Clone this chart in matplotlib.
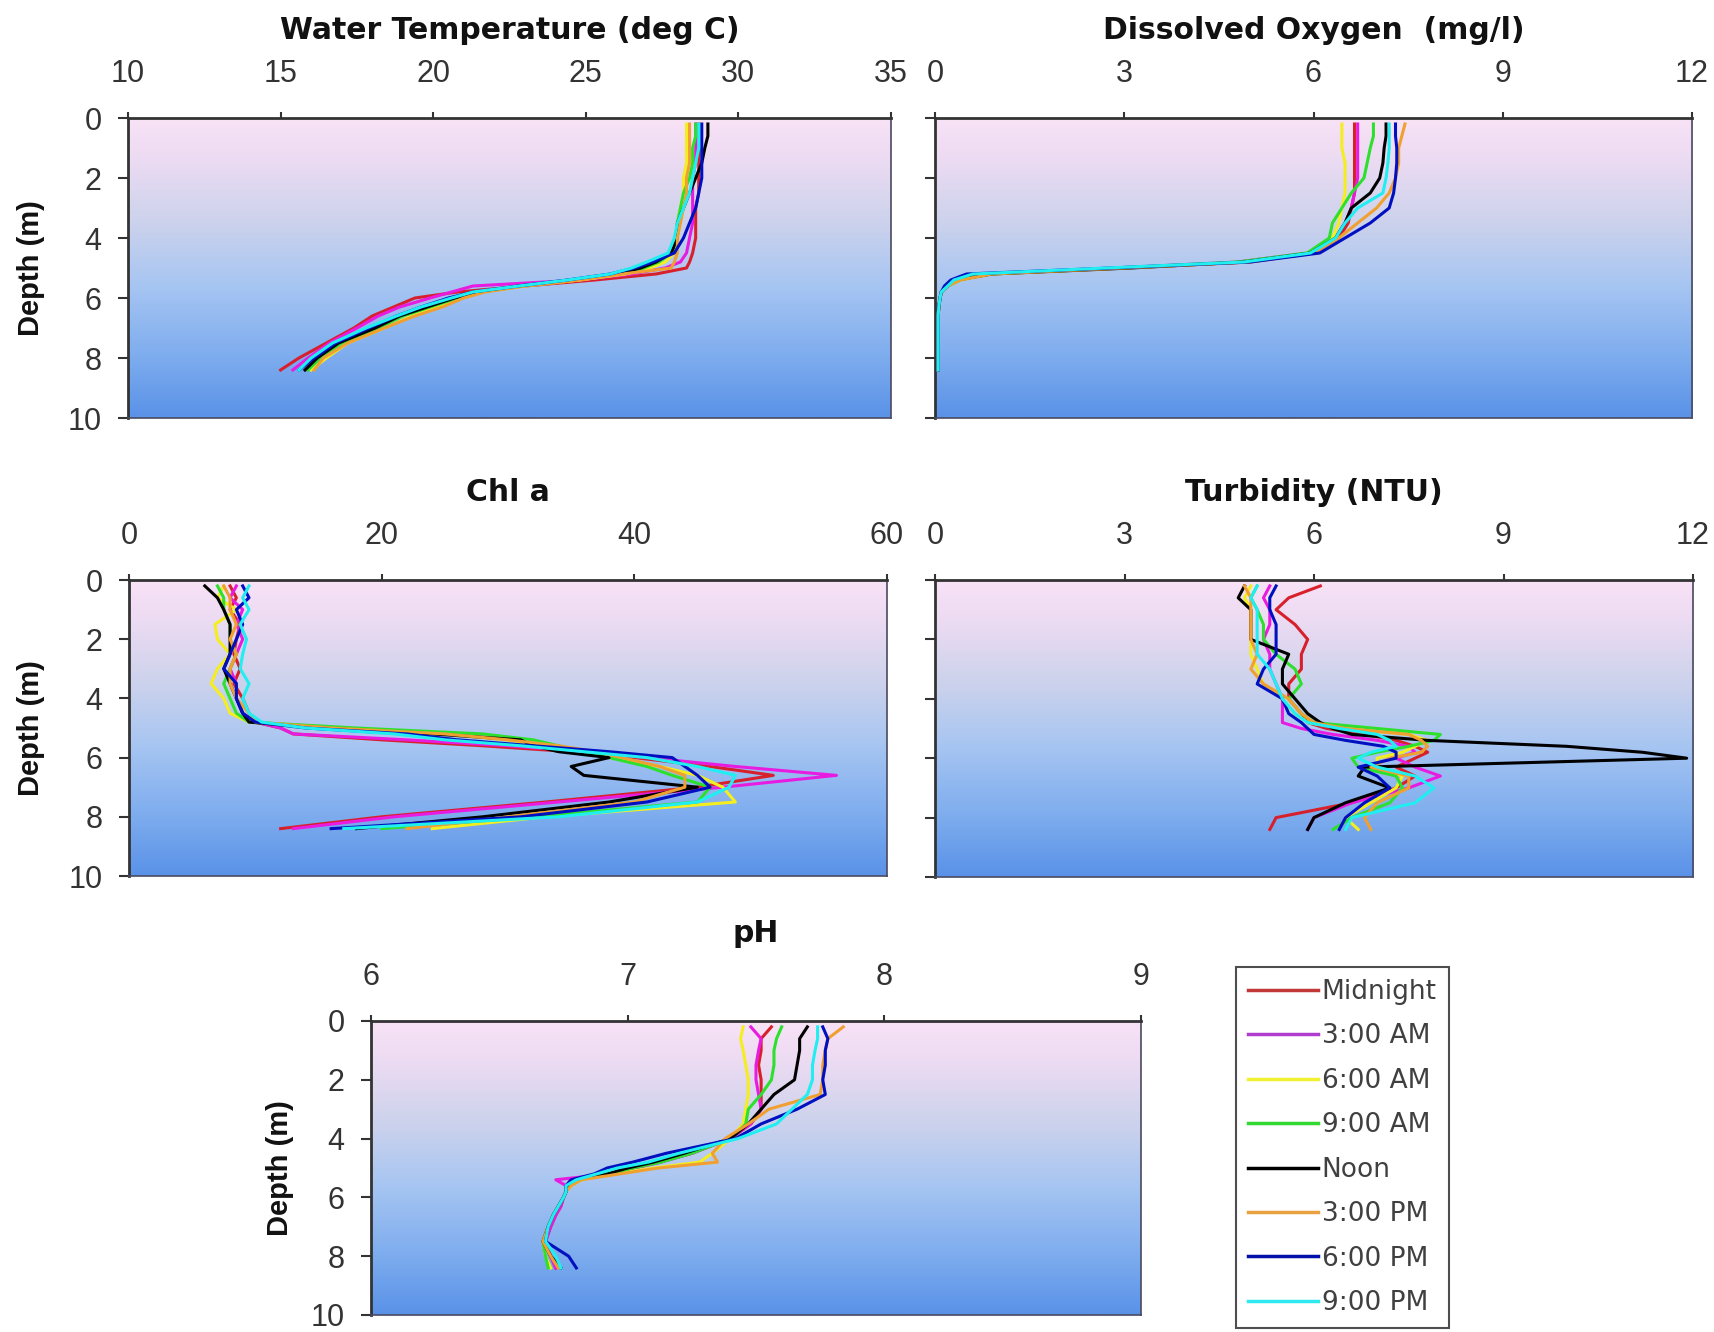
import numpy as np
import matplotlib
matplotlib.use("Agg")
import matplotlib.pyplot as plt
from matplotlib.colors import LinearSegmentedColormap
from matplotlib.lines import Line2D

# ---------------- data ----------------
series_labels = ["Midnight", "3:00 AM", "6:00 AM", "9:00 AM", "Noon", "3:00 PM", "6:00 PM", "9:00 PM"]
series_colors = ["#D8202C", "#E81CE0", "#F4EE20", "#2EE02E", "#000000", "#F0A030", "#0010C0", "#20EEF0"]
legend_colors = ["#C03838", "#B03CD0", "#F0F030", "#30D830", "#000000", "#E8A040", "#0010A8", "#30E8F0"]

depth_m = [0.2, 0.6, 1.0, 1.5, 2.0, 2.5, 3.0, 3.5, 4.0, 4.5, 4.8, 5.0, 5.2, 5.4, 5.6, 5.8,
           6.0, 6.3, 6.6, 7.0, 7.5, 8.0, 8.4]

temp_values = [
    [28.7, 28.7, 28.7, 28.7, 28.7, 28.7, 28.6, 28.6, 28.6, 28.5, 28.4, 28.3, 27.3, 25.3, 23.0, 20.8, 19.4, 18.7, 18.0, 17.4, 16.5, 15.6, 15.0],
    [28.6, 28.6, 28.6, 28.6, 28.5, 28.5, 28.5, 28.5, 28.4, 28.3, 28.1, 27.6, 26.5, 24.8, 21.3, 20.6, 19.9, 18.9, 18.2, 17.5, 16.6, 15.9, 15.4],
    [28.3, 28.3, 28.3, 28.3, 28.2, 28.2, 28.1, 28.0, 28.0, 27.9, 27.6, 27.1, 26.3, 24.8, 23.0, 21.6, 20.9, 20.1, 19.3, 18.4, 17.2, 16.5, 16.0],
    [28.6, 28.6, 28.5, 28.5, 28.4, 28.2, 28.1, 28.0, 28.0, 27.8, 27.4, 26.9, 26.1, 24.6, 22.9, 21.6, 20.8, 19.9, 19.0, 18.2, 17.0, 16.3, 15.9],
    [29.0, 29.0, 28.9, 28.8, 28.6, 28.4, 28.2, 28.0, 28.0, 27.8, 27.3, 26.8, 26.0, 24.5, 22.8, 21.5, 20.7, 19.8, 18.9, 18.1, 16.9, 16.2, 15.8],
    [28.4, 28.4, 28.4, 28.4, 28.3, 28.3, 28.2, 28.1, 28.0, 28.0, 27.9, 27.8, 26.2, 24.8, 23.0, 21.7, 21.0, 20.3, 19.4, 18.4, 17.2, 16.4, 16.1],
    [28.8, 28.8, 28.8, 28.8, 28.8, 28.7, 28.6, 28.4, 28.2, 27.9, 27.2, 26.6, 25.8, 24.4, 22.8, 21.3, 20.5, 19.6, 18.8, 17.9, 16.8, 16.1, 15.6],
    [28.7, 28.7, 28.7, 28.6, 28.5, 28.4, 28.2, 28.0, 27.9, 27.7, 27.0, 26.5, 25.8, 24.4, 22.8, 21.3, 20.6, 19.6, 18.8, 17.8, 16.7, 16.0, 15.6],
]

do_values = [
    [6.65, 6.65, 6.65, 6.65, 6.65, 6.65, 6.60, 6.55, 6.40, 6.00, 5.00, 3.00, 0.80, 0.30, 0.20, 0.10, 0.08, 0.06, 0.05, 0.05, 0.05, 0.05, 0.05],
    [6.70, 6.70, 6.70, 6.70, 6.70, 6.65, 6.60, 6.50, 6.35, 5.90, 4.80, 2.80, 0.70, 0.30, 0.20, 0.10, 0.08, 0.06, 0.05, 0.05, 0.05, 0.05, 0.05],
    [6.45, 6.45, 6.45, 6.50, 6.50, 6.50, 6.45, 6.40, 6.30, 5.90, 4.90, 3.00, 0.90, 0.40, 0.20, 0.10, 0.08, 0.06, 0.05, 0.05, 0.05, 0.05, 0.05],
    [6.95, 6.95, 6.90, 6.85, 6.80, 6.60, 6.45, 6.30, 6.25, 5.90, 4.80, 2.90, 0.80, 0.40, 0.20, 0.10, 0.08, 0.06, 0.05, 0.05, 0.05, 0.05, 0.05],
    [7.15, 7.15, 7.12, 7.10, 7.05, 6.90, 6.60, 6.50, 6.35, 5.95, 4.90, 3.10, 0.90, 0.35, 0.20, 0.10, 0.08, 0.06, 0.05, 0.05, 0.05, 0.05, 0.05],
    [7.45, 7.40, 7.35, 7.35, 7.30, 7.20, 7.00, 6.70, 6.40, 6.00, 5.00, 3.00, 0.90, 0.40, 0.20, 0.10, 0.08, 0.06, 0.05, 0.05, 0.05, 0.05, 0.05],
    [7.30, 7.30, 7.32, 7.32, 7.30, 7.27, 7.20, 6.90, 6.50, 6.10, 5.00, 2.80, 0.50, 0.25, 0.15, 0.10, 0.08, 0.06, 0.05, 0.05, 0.05, 0.05, 0.05],
    [7.20, 7.20, 7.20, 7.18, 7.15, 7.10, 6.70, 6.50, 6.35, 5.95, 4.90, 2.70, 0.60, 0.30, 0.20, 0.10, 0.08, 0.06, 0.05, 0.05, 0.05, 0.05, 0.05],
]

chla_values = [
    [8.0, 8.5, 8.0, 8.8, 8.5, 8.3, 8.8, 8.3, 9.0, 9.5, 10.0, 12.0, 13.0, 20.0, 28.0, 35.0, 40.0, 46.0, 51.0, 45.0, 33.0, 20.0, 12.0],
    [8.5, 8.0, 9.0, 8.5, 9.0, 8.5, 8.0, 8.5, 8.5, 9.0, 10.0, 12.0, 13.0, 22.0, 30.0, 36.0, 41.0, 48.0, 56.0, 47.0, 34.0, 21.0, 13.0],
    [7.5, 7.0, 8.5, 6.8, 7.0, 8.0, 7.0, 6.5, 7.5, 8.0, 9.5, 15.0, 25.0, 30.0, 33.0, 36.0, 38.0, 42.0, 45.0, 47.0, 48.0, 33.0, 24.0],
    [7.0, 7.5, 7.5, 8.0, 8.0, 8.5, 8.0, 7.5, 8.0, 8.5, 9.5, 18.0, 28.0, 32.0, 34.0, 36.0, 38.0, 41.0, 43.0, 46.0, 45.0, 32.0, 20.0],
    [6.0, 7.0, 7.5, 8.0, 8.0, 8.0, 7.5, 8.0, 8.5, 9.0, 9.5, 15.0, 24.0, 31.0, 32.0, 34.0, 38.0, 35.0, 36.0, 45.0, 38.0, 28.0, 18.0],
    [7.5, 8.0, 8.0, 8.5, 8.0, 8.5, 8.0, 8.0, 8.5, 9.5, 10.0, 16.0, 25.0, 30.0, 34.0, 37.0, 39.0, 42.0, 44.0, 44.0, 40.0, 30.0, 22.0],
    [9.0, 9.5, 8.5, 9.0, 8.5, 8.0, 7.5, 8.5, 8.5, 9.0, 10.0, 14.0, 22.0, 26.0, 32.0, 38.0, 43.0, 44.0, 45.0, 46.0, 41.0, 31.0, 16.0],
    [9.5, 9.0, 9.5, 8.8, 9.3, 9.0, 8.8, 9.5, 9.0, 9.5, 10.5, 14.0, 21.0, 25.0, 31.0, 36.0, 41.0, 45.0, 48.0, 47.5, 45.0, 34.0, 17.0],
]

turb_values = [
    [6.1, 5.6, 5.4, 5.7, 5.9, 5.8, 5.8, 5.6, 5.6, 5.8, 5.9, 6.2, 6.8, 7.3, 7.6, 7.8, 7.6, 7.3, 7.6, 7.3, 6.6, 5.4, 5.3],
    [5.3, 5.2, 5.3, 5.3, 5.2, 5.3, 5.3, 5.4, 5.5, 5.5, 5.5, 5.8, 6.3, 7.0, 7.5, 7.6, 7.3, 7.6, 8.0, 7.5, 6.6, 6.0, 5.9],
    [5.0, 4.9, 5.0, 5.0, 5.0, 5.0, 5.1, 5.2, 5.5, 5.7, 5.9, 6.5, 7.5, 7.8, 7.6, 7.4, 7.0, 7.0, 7.4, 7.3, 6.9, 6.5, 6.7],
    [5.1, 5.0, 5.1, 5.2, 5.2, 5.4, 5.7, 5.8, 5.6, 5.8, 6.0, 7.0, 8.0, 7.9, 7.5, 7.0, 6.6, 6.7, 7.3, 7.4, 7.2, 6.6, 6.3],
    [4.9, 4.8, 5.0, 5.0, 5.0, 5.6, 5.5, 5.5, 5.7, 5.9, 6.1, 6.3, 6.6, 7.8, 10.0, 11.2, 11.9, 6.8, 6.7, 7.2, 6.5, 6.0, 5.9],
    [4.9, 5.0, 5.0, 5.0, 5.0, 5.1, 5.0, 5.2, 5.6, 5.8, 6.0, 6.5, 7.5, 7.7, 7.8, 7.7, 7.2, 6.9, 7.5, 7.5, 7.0, 6.8, 6.9],
    [5.4, 5.3, 5.3, 5.4, 5.4, 5.4, 5.2, 5.1, 5.5, 5.6, 5.8, 5.9, 6.0, 6.5, 7.1, 7.3, 7.3, 6.7, 7.0, 7.2, 6.8, 6.5, 6.4],
    [5.1, 5.0, 5.1, 5.1, 5.1, 5.1, 5.3, 5.4, 5.5, 5.7, 5.9, 6.4, 7.0, 7.2, 7.3, 6.9, 6.7, 7.0, 7.6, 7.9, 7.6, 6.6, 6.5],
]

ph_values = [
    [7.56, 7.52, 7.52, 7.51, 7.52, 7.52, 7.52, 7.48, 7.40, 7.25, 7.12, 7.02, 6.95, 6.78, 6.76, 6.76, 6.75, 6.74, 6.72, 6.70, 6.68, 6.70, 6.72],
    [7.48, 7.52, 7.51, 7.50, 7.50, 7.51, 7.52, 7.48, 7.40, 7.25, 7.13, 7.03, 6.93, 6.72, 6.76, 6.76, 6.75, 6.74, 6.72, 6.70, 6.68, 6.70, 6.72],
    [7.45, 7.44, 7.45, 7.46, 7.47, 7.47, 7.46, 7.45, 7.40, 7.33, 7.28, 7.10, 6.95, 6.82, 6.78, 6.76, 6.75, 6.73, 6.71, 6.69, 6.67, 6.68, 6.70],
    [7.60, 7.58, 7.57, 7.57, 7.56, 7.52, 7.47, 7.46, 7.40, 7.25, 7.13, 7.02, 6.93, 6.80, 6.77, 6.76, 6.75, 6.73, 6.71, 6.69, 6.67, 6.68, 6.69],
    [7.70, 7.67, 7.67, 7.66, 7.65, 7.57, 7.52, 7.47, 7.40, 7.22, 7.10, 7.00, 6.92, 6.80, 6.77, 6.76, 6.75, 6.73, 6.71, 6.69, 6.67, 6.70, 6.74],
    [7.84, 7.78, 7.77, 7.76, 7.76, 7.75, 7.55, 7.47, 7.38, 7.33, 7.35, 7.12, 6.97, 6.82, 6.78, 6.76, 6.75, 6.73, 6.71, 6.69, 6.67, 6.70, 6.73],
    [7.76, 7.78, 7.77, 7.77, 7.76, 7.77, 7.66, 7.52, 7.42, 7.15, 7.02, 6.92, 6.87, 6.78, 6.76, 6.76, 6.75, 6.73, 6.71, 6.69, 6.68, 6.77, 6.80],
    [7.74, 7.74, 7.73, 7.72, 7.72, 7.70, 7.64, 7.58, 7.43, 7.20, 7.08, 6.96, 6.88, 6.80, 6.76, 6.76, 6.75, 6.73, 6.71, 6.69, 6.68, 6.72, 6.74],
]

panel_titles = ["Water Temperature (deg C)", "Dissolved Oxygen  (mg/l)", "Chl a", "Turbidity (NTU)", "pH"]
panel_xticks = [[10, 15, 20, 25, 30, 35], [0, 3, 6, 9, 12], [0, 20, 40, 60], [0, 3, 6, 9, 12], [6, 7, 8, 9]]
depth_ticks = [0, 2, 4, 6, 8, 10]
depth_label = "Depth (m)"

# ---------------- figure ----------------
W, H = 1714, 1332
fig = plt.figure(figsize=(W / 100, H / 100), dpi=100)
fig.patch.set_facecolor("white")

def frac(left, top, right, bottom):
    return [left / W, 1 - bottom / H, (right - left) / W, (bottom - top) / H]

rects = [frac(128, 118, 891, 418), frac(935, 118, 1692, 418),
         frac(129, 580, 887, 876), frac(935, 580, 1693, 877),
         frac(371, 1021, 1141, 1315)]
show_ylabel = [True, False, True, False, True]
ylabel_px = [45, None, 45, None, 294]
all_values = [temp_values, do_values, chla_values, turb_values, ph_values]

bg_cmap = LinearSegmentedColormap.from_list(
    "water", [(0.0, "#F8E2F6"), (0.12, "#EEDCF3"), (0.35, "#CCD2EC"),
              (0.55, "#A8C6F2"), (0.8, "#7DACEE"), (1.0, "#5A92E8")])
grad = np.linspace(0, 1, 256).reshape(-1, 1)

tick_family = ["Liberation Sans", "DejaVu Sans"]

for i, rect in enumerate(rects):
    ax = fig.add_axes(rect)
    xt = panel_xticks[i]
    ax.imshow(grad, cmap=bg_cmap, aspect="auto", extent=[0, 1, 0, 1],
              transform=ax.transAxes, zorder=0, interpolation="bilinear", origin="upper")
    for k, vals in enumerate(all_values[i]):
        ax.plot(vals, depth_m, color=series_colors[k], lw=2.2, zorder=2 + k,
                solid_joinstyle="round")
    ax.set_xlim(xt[0], xt[-1])
    ax.set_ylim(10, 0)
    ax.xaxis.tick_top()
    ax.set_xticks(xt)
    ax.set_yticks(depth_ticks)
    ax.tick_params(axis="x", direction="out", length=4, width=1.5, color="#333333", pad=17)
    ax.tick_params(axis="y", direction="out", length=7, width=1.5, color="#333333", pad=12)
    for lab in ax.get_xticklabels() + ax.get_yticklabels():
        lab.set_fontfamily(tick_family)
        lab.set_fontsize(22)
        lab.set_color("#333333")
    if not show_ylabel[i]:
        ax.set_yticklabels([])
    else:
        ax.set_ylabel(depth_label, fontsize=21, fontweight="bold",
                      family=tick_family, color="#111111")
        ax.yaxis.set_label_coords((ylabel_px[i] - rect[0] * W) / (rect[2] * W), 0.5)
    for s in ["top", "left"]:
        ax.spines[s].set_color("#333333")
        ax.spines[s].set_linewidth(2)
    for s in ["right", "bottom"]:
        ax.spines[s].set_color("#4A4A60")
        ax.spines[s].set_linewidth(1.2)
    ax.annotate(panel_titles[i], xy=(0.5, 1.0), xycoords="axes fraction",
                xytext=(0, 57), textcoords="offset points", ha="center", va="baseline",
                fontsize=21.5, fontweight="bold", family="DejaVu Sans", color="#111111")

handles = [Line2D([0], [0], color=c, lw=2.5) for c in legend_colors]
leg = fig.legend(handles, series_labels, loc="upper left",
                 bbox_to_anchor=(1236 / W, 1 - 967 / H), bbox_transform=fig.transFigure,
                 borderaxespad=0, frameon=True, fancybox=False, edgecolor="#222222",
                 prop=dict(family="DejaVu Sans", size=19), handlelength=2.65,
                 handletextpad=0.15, labelspacing=0.70, borderpad=0.45)
leg.get_frame().set_linewidth(1.5)
for t in leg.get_texts():
    t.set_color("#404040")

fig.savefig("out.png", dpi=100, facecolor="white")
